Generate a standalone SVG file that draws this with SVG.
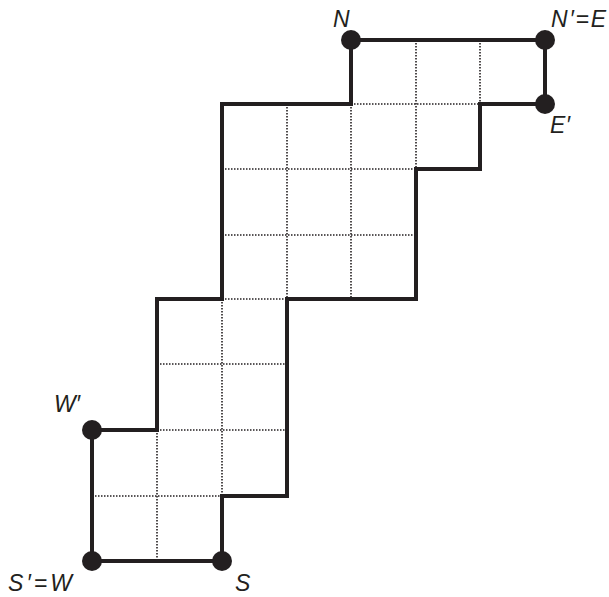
<svg xmlns="http://www.w3.org/2000/svg" width="609" height="597" viewBox="0 0 609 597">
<style>
.grid{stroke:#231f20;stroke-width:1.6;stroke-dasharray:1.5,1.5;fill:none}
.outline{stroke:#231f20;stroke-width:4;fill:none;stroke-linejoin:miter}
.dot{fill:#231f20}
.lbl{font-family:"Liberation Sans",Arial,sans-serif;font-style:italic;font-size:23px;fill:#231f20}
</style>
<rect width="609" height="597" fill="#fff"/>
<g id="connectors">
<g class="grid">
<path d="M351 104H480M222 169H416M222 235H416M222 299H287M157 364H287M157 430H287M92 496H222"/>
<path d="M157 430V561M222 299V496M287 104V299M351 104V299M416 40V169M480 40V104"/>
</g>
<path class="outline" d="M222 561H92V430H157V299H222V104H351V40H545V104H480V169H416V299H287V496H222Z"/>
</g>
<g id="N"><circle class="dot" cx="351" cy="40" r="10"/><text class="lbl" x="333" y="27">N</text></g>
<g id="NE"><circle class="dot" cx="545" cy="40" r="10"/><text class="lbl" x="551" y="27" textLength="55" lengthAdjust="spacing">N′=E</text></g>
<g id="Ep"><circle class="dot" cx="545" cy="104" r="10"/><text class="lbl" x="550" y="133" textLength="20" lengthAdjust="spacing">E′</text></g>
<g id="Wp"><circle class="dot" cx="92" cy="430" r="10"/><text class="lbl" x="54" y="412" textLength="26" lengthAdjust="spacing">W′</text></g>
<g id="SW"><circle class="dot" cx="92" cy="561" r="10"/><text class="lbl" x="8" y="591" textLength="64" lengthAdjust="spacing">S′=W</text></g>
<g id="S"><circle class="dot" cx="222" cy="561" r="10"/><text class="lbl" x="235" y="591">S</text></g>
</svg>
